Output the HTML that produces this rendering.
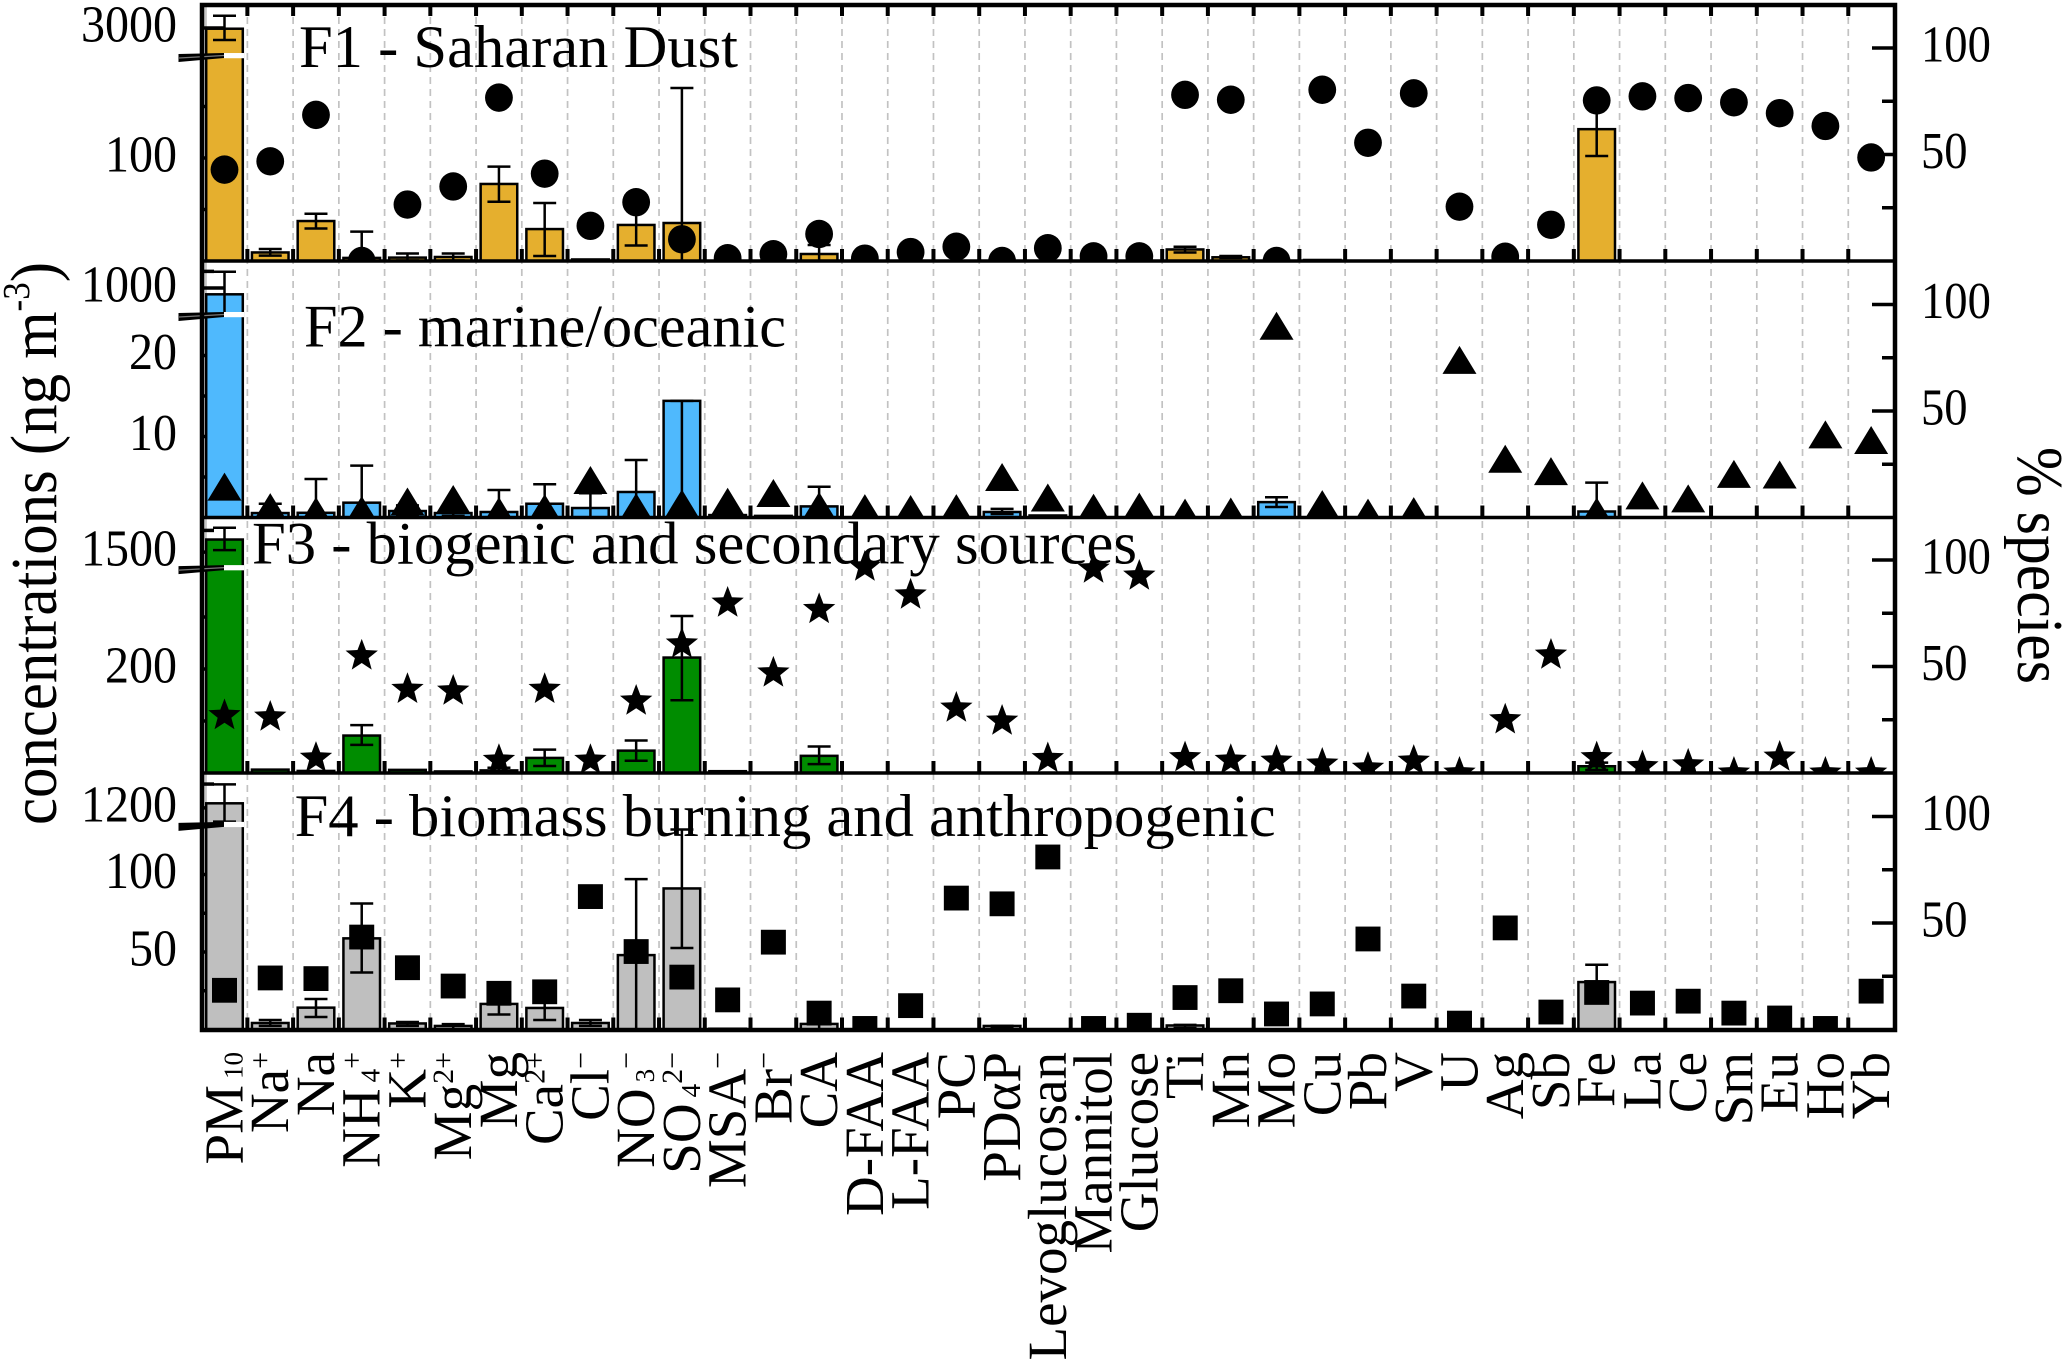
<!DOCTYPE html>
<html lang="en">
<head>
<meta charset="utf-8">
<title>Factor profiles</title>
<style>
html,body{margin:0;padding:0;background:#fff;}
svg{display:block;}
text{font-family:"Liberation Serif","Noto Serif CJK SC",serif;fill:#000;}
</style>
</head>
<body>
<svg id="chart" xmlns="http://www.w3.org/2000/svg" width="2067" height="1360" viewBox="0 0 2067 1360">
  <rect x="0" y="0" width="2067" height="1360" fill="#ffffff"/>
  <defs id="defs"></defs>
  <g id="grid"></g>
  <g id="panels"></g>
  <g id="frame"></g>
  <g id="xlabels"></g>
  <text transform="translate(56,825) rotate(-90)" font-size="66" textLength="563" lengthAdjust="spacingAndGlyphs">concentrations (ng m<tspan font-size="38" dy="-27">-3</tspan><tspan dy="27">)</tspan></text>
  <text transform="translate(2018,447) rotate(90)" font-size="66" textLength="237" lengthAdjust="spacingAndGlyphs">% species</text>
</svg>
<script>
const categories = ['PM_10','Na^+','Na','NH_4^+','K^+','Mg^2+','Mg','Ca^2+','Cl^−','NO_3^−','SO_4^2−','MSA^−','Br^−','CA','D-FAA','L-FAA','PC','PDαP','Levoglucosan','Mannitol','Glucose','Ti','Mn','Mo','Cu','Pb','V','U','Ag','Sb','Fe','La','Ce','Sm','Eu','Ho','Yb'];

const f1Bars = [2930,8.3,38.8,3,3.3,3.9,74.8,31,1.5,35,36.9,0,0,6.8,0,0,0,0,0,0,0,11.2,3.6,0,1,0,0,0,0,0,128,0,0,0,0,0,0];
const f1Hi   = [4230,11.7,45.9,28.5,7.3,7.3,91.6,56.3,0,55,168,0,0,15.5,0,0,0,0,0,0,0,13.8,4.9,0,0,0,0,0,0,0,155,0,0,0,0,0,0];
const f1Lo   = [1800,5.2,31.6,0,0.5,0.5,57.5,4.9,0,15,0,0,0,0,0,0,0,0,0,0,0,8.3,2.9,0,0,0,0,0,0,0,102,0,0,0,0,0,0];
const f1Pct  = [42.9,46.8,68.6,0,26.5,35,76.7,41,16.5,27.6,10.2,1.3,3.2,12.7,1.1,4.2,6.7,0,6,2.2,2.2,78,75.7,0,80.4,55.5,78.7,25.5,2,17,75.4,77.3,76.5,74.5,69.4,63.4,48.6];

const f2Bars = [772,0.55,0.58,1.83,0.8,0.55,0.68,1.7,1.17,3.15,14.4,0.3,0.2,1.37,0,0,0,0.68,0.25,0,0,0,0,1.9,0,0,0,0,0,0,0.74,0,0,0,0,0,0];
const f2Hi   = [1588,1.7,4.75,6.4,1.5,0.9,3.4,4.1,3,7.1,14.4,0,0,3.8,0,0,0,1.07,0,0,0,0,0,2.5,0,0,0,0,0,0,4.3,0,0,0,0,0,0];
const f2Lo   = [25,0,0,0,0.1,0.2,0,0,0,0,0,0,0,0,0,0,0,0.43,0,0,0,0,0,1.3,0,0,0,0,0,0,0,0,0,0,0,0,0];
const f2Pct  = [14.5,4.9,3,3.5,7.5,8.7,3,4.4,17.6,4.9,6.6,7.4,11.5,5.4,4.4,4,4.4,19,9.4,4.6,5.1,2.3,2.8,90,6.3,2.3,3,74,27.6,21.8,2.8,10.4,9,20.5,20.2,39,36.4];

const f3Bars = [2370,6.5,4,72,6,3,5,29,0,43,222,3.5,0,33,0,0,0,0,0,0,0,0,0,0,0,0,0,0,0,0,13,0,0,0,0,0,0];
const f3Hi   = [3186,0,0,92,0,0,10,45,0,62.5,302,0,0,51,0,0,0,0,0,0,0,0,0,0,0,0,0,0,0,0,20,0,0,0,0,0,0];
const f3Lo   = [1638,0,0,54,0,0,0,13.5,0,23.5,140,0,0,17,0,0,0,0,0,0,0,0,0,0,0,0,0,0,0,0,6,0,0,0,0,0,0];
const f3Pct  = [27,26.3,7,55,39.3,38.5,6,39.3,6,33.8,60.6,79.8,47,76.8,96.7,83.6,30.5,24.4,6.8,95.8,92.5,7.2,6,5.6,4.2,2.3,5.6,0,25,55.4,7.2,3,3.8,0,7.5,0,0];

const f4Bars = [1490,4.2,14.1,58.8,3.9,2.3,16.5,13.9,4.2,48,91,0.5,0,3.6,0,0,0,2.3,0,0,0,2.6,0,0,0,0,0,0,0,0,30.6,0,0,0,0,0,0];
const f4Hi   = [2679,6.1,19.7,81.3,4.8,3.5,23,21.6,6.1,97,129,0,0,3.6,0,0,0,2.3,0,0,0,3,0,0,0,0,0,0,0,0,41.8,0,0,0,0,0,0];
const f4Lo   = [340,2.3,8.1,36.8,2.3,0,9.7,6.1,2.3,0,52.6,0,0,0,0,0,0,1.5,0,0,0,1,0,0,0,0,0,0,0,0,19,0,0,0,0,0,0];
const f4Pct  = [18.4,24.2,23.9,43.4,29,20.4,17,17.7,62.4,36.6,24.6,13.9,41,7.7,0.5,11.2,61.7,59,81,0.5,2,15,18.2,7.3,12,42.5,15.7,3,47.7,8.2,17.4,12.4,13.3,7.7,5.4,0.5,18];

const f1MajorTicks = [100,3000];
const f1MinorTicks = [50,150];
const f2MajorTicks = [10,20,1000];
const f2MinorTicks = [5,15,1600];
const f3MajorTicks = [200,1500];
const f3MinorTicks = [100,300,3000];
const f4MajorTicks = [50,100,1200];
const f4MinorTicks = [25,75,2700];
const pctMajorTicks = [50,100];
const pctMinorTicks = [25,75];

const NS = 'http://www.w3.org/2000/svg';
const X0 = 224.5, DX = 45.74, BARW = 36.6;
const FRAME_L = 202, FRAME_R = 1895, FRAME_T = 5, FRAME_B = 1030;
const PCT_K = 2.13;
const x = i => X0 + DX * i;

const panels = [
  {id:'f1', title:'F1 - Saharan Dust', tx:299, tl:439, ty:67, top:5, base:261, k:1.03, bv:199, ku:0.01, color:'#e5af2e', marker:'circle', bars:f1Bars, hi:f1Hi, lo:f1Lo, pct:f1Pct, major:f1MajorTicks, minor:f1MinorTicks},
  {id:'f2', title:'F2 - marine/oceanic', tx:304, tl:482, ty:346.5, top:261, base:517.5, k:8.1, bv:25, ku:0.0277, color:'#4fb9fd', marker:'triangle', bars:f2Bars, hi:f2Hi, lo:f2Lo, pct:f2Pct, major:f2MajorTicks, minor:f2MinorTicks},
  {id:'f3', title:'F3 - biogenic and secondary sources', tx:252, tl:885, ty:563.4, top:517.5, base:773, k:0.52, bv:394, ku:0.01447, color:'#008c00', marker:'star', bars:f3Bars, hi:f3Hi, lo:f3Lo, pct:f3Pct, major:f3MajorTicks, minor:f3MinorTicks},
  {id:'f4', title:'F4 - biomass burning and anthropogenic', tx:294.6, tl:981, ty:836, top:773, base:1029.5, k:1.55, bv:132, ku:0.0159, color:'#bfbfbf', marker:'square', bars:f4Bars, hi:f4Hi, lo:f4Lo, pct:f4Pct, major:f4MajorTicks, minor:f4MinorTicks}
];

function yScale(p, v) {
  if (v <= p.bv) return p.base - v * p.k;
  return p.base - p.bv * p.k - (v - p.bv) * p.ku;
}
function pctScale(p, v) {
  return p.base - v * PCT_K;
}
function node(tag, attrs, parent) {
  const el = document.createElementNS(NS, tag);
  for (const key in attrs) el.setAttribute(key, attrs[key]);
  parent.appendChild(el);
  return el;
}

/* grid and x ticks */
const gridG = document.getElementById('grid');
for (let i = 0; i < 36; i++) {
  const gx = x(i + 0.5);
  const line = node('line', {x1:gx, x2:gx, y1:FRAME_T, y2:FRAME_B, stroke:'#c2c2c2', 'stroke-width':1.7, 'stroke-dasharray':'7 5'}, gridG);
  
  
}
const leftSliver = node('line', {x1:205.6, x2:205.6, y1:FRAME_T, y2:FRAME_B, stroke:'#c4c4c4', 'stroke-width':2.5}, gridG);



/* panels */
const panelsG = document.getElementById('panels');
const defs = document.getElementById('defs');
panels.forEach((p, pi) => {
  const g = node('g', {}, panelsG);
  
  

  const clip = node('clipPath', {id:'clip-' + p.id}, defs);
  node('rect', {x:FRAME_L, y:p.top, width:FRAME_R - FRAME_L, height:p.base - p.top}, clip);

  /* x ticks */
  for (let i = 0; i < 36; i++) {
    const gx = x(i + 0.5);
    const t = node('line', {x1:gx, x2:gx, y1:p.base, y2:p.base - 12, stroke:'#000', 'stroke-width':4}, g);
    
    
    if (pi === 0) {
      const tt = node('line', {x1:gx, x2:gx, y1:FRAME_T, y2:FRAME_T + 11, stroke:'#000', 'stroke-width':4}, g);
      
      
    }
  }

  /* left ticks */
  p.minor.forEach(v => {
    const yy = yScale(p, v);
    const t = node('line', {x1:FRAME_L, x2:FRAME_L + 12, y1:yy, y2:yy, stroke:'#000', 'stroke-width':3.5}, g);
    
    
  });
  p.major.forEach(v => {
    const yy = yScale(p, v);
    const t = node('line', {x1:FRAME_L, x2:FRAME_L + 22, y1:yy, y2:yy, stroke:'#000', 'stroke-width':3.5}, g);
    
    
    const s = String(v);
    const label = node('text', {x:177, y:yy + 13.5, 'text-anchor':'end', 'font-size':52, textLength:s.length * 24, lengthAdjust:'spacingAndGlyphs'}, g);
    label.textContent = s;
    
    
  });

  /* right ticks */
  pctMinorTicks.forEach(v => {
    const yy = pctScale(p, v);
    const t = node('line', {x1:FRAME_R, x2:FRAME_R - 13, y1:yy, y2:yy, stroke:'#000', 'stroke-width':3.5}, g);
    
    
  });
  pctMajorTicks.forEach(v => {
    const yy = pctScale(p, v);
    const t = node('line', {x1:FRAME_R, x2:FRAME_R - 23, y1:yy, y2:yy, stroke:'#000', 'stroke-width':3.5}, g);
    
    
    const s = String(v);
    const label = node('text', {x:1921, y:yy + 13.5, 'font-size':52, textLength:s.length * 23.3, lengthAdjust:'spacingAndGlyphs'}, g);
    label.textContent = s;
    
    
  });

  const clipped = node('g', {'clip-path':'url(#clip-' + p.id + ')'}, g);
  
  

  /* bars */
  p.bars.forEach((v, i) => {
    if (!(v > 0)) return;
    const top = yScale(p, v);
    const bar = node('rect', {x:x(i) - BARW / 2, y:top, width:BARW, height:p.base - top, fill:p.color, stroke:'#000', 'stroke-width':2.5}, clipped);
    
    
  });

  /* error bars */
  p.hi.forEach((v, i) => {
    if (!(v > 0)) return;
    const yHi = yScale(p, v);
    const yLo = yScale(p, p.lo[i]);
    const cx = x(i);
    const e = node('path', {d:'M' + cx + ' ' + yLo + 'V' + yHi + 'M' + (cx - 11.5) + ' ' + yHi + 'H' + (cx + 11.5) + 'M' + (cx - 11.5) + ' ' + yLo + 'H' + (cx + 11.5), fill:'none', stroke:'#000', 'stroke-width':2.5}, clipped);
    
    
  });

  /* axis break */
  const by = yScale(p, p.bv);
  const band = node('polygon', {points:'178.5,' + (by - 2) + ' 178.5,' + (by + 6) + ' 224,' + (by + 2) + ' 224,' + (by - 3), fill:'#000'}, g);
  
  
  if (pi < 3) {
    const seam = node('line', {x1:179, y1:by + 2, x2:224, y2:by - 0.5, stroke:'#777', 'stroke-width':1.2}, g);
    
    
  }
  const gap = node('rect', {x:224, y:by - 3, width:20, height:5.2, fill:'#fff'}, g);
  
  

  /* percentage markers */
  p.pct.forEach((v, i) => {
    const cx = x(i);
    const cy = pctScale(p, v);
    let m;
    if (p.marker === 'circle') {
      m = node('ellipse', {cx:cx, cy:cy, rx:13.9, ry:14.2, fill:'#000'}, clipped);
    } else if (p.marker === 'triangle') {
      m = node('polygon', {points:cx + ',' + (cy - 14) + ' ' + (cx + 17) + ',' + (cy + 14) + ' ' + (cx - 17) + ',' + (cy + 14), fill:'#000'}, clipped);
    } else if (p.marker === 'star') {
      const pts = [];
      for (let a = 0; a < 10; a++) {
        const r = a % 2 ? 7.2 : 17;
        const th = -Math.PI / 2 + a * Math.PI / 5;
        pts.push((cx + r * Math.cos(th)).toFixed(2) + ',' + (cy + r * Math.sin(th)).toFixed(2));
      }
      m = node('polygon', {points:pts.join(' '), fill:'#000'}, clipped);
    } else {
      m = node('rect', {x:cx - 12.5, y:cy - 12.4, width:25, height:24.8, fill:'#000'}, clipped);
    }
    
    
  });

  /* title */
  const title = node('text', {x:p.tx, y:p.ty, 'font-size':60, textLength:p.tl, lengthAdjust:'spacingAndGlyphs'}, g);
  title.textContent = p.title;
  
  
});

/* frame */
const frameG = document.getElementById('frame');
const box = node('rect', {x:FRAME_L, y:FRAME_T, width:FRAME_R - FRAME_L, height:FRAME_B - FRAME_T, fill:'none', stroke:'#000', 'stroke-width':4.5}, frameG);


panels.slice(0, 3).forEach(p => {
  const d = node('line', {x1:FRAME_L, x2:FRAME_R, y1:p.base, y2:p.base, stroke:'#000', 'stroke-width':3.5}, frameG);
  
  
});

/* category labels */
const xG = document.getElementById('xlabels');
categories.forEach((c, i) => {
  const t = node('text', {transform:'translate(' + (x(i) + 18) + ',1052) rotate(-90)', 'text-anchor':'end', 'font-size':55}, xG);
  
  
  let shift = 0;
  c.split(/(?=[_^])/).forEach(part => {
    const ts = node('tspan', {}, t);
    let target = 0;
    if (part[0] === '_') {
      ts.setAttribute('font-size', 27);
      ts.setAttribute('dx', 6);
      part = part.slice(1);
    } else if (part[0] === '^') {
      ts.setAttribute('font-size', 30);
      part = part.slice(1);
      target = -18;
    }
    if (target !== shift) ts.setAttribute('dy', target - shift);
    shift = target;
    ts.textContent = part;
  });
});
</script>
</body>
</html>
